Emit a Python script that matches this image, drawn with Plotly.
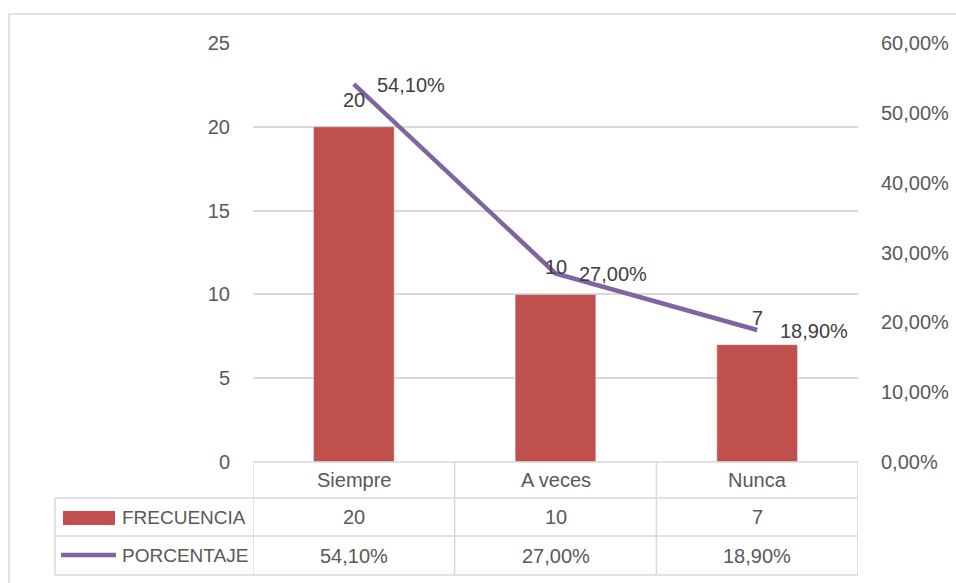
import plotly.graph_objects as go

categories = ["Siempre", "A veces", "Nunca"]
frecuencia = [20, 10, 7]
porcentaje = [0.541, 0.27, 0.189]
pct_labels = ["54,10%", "27,00%", "18,90%"]
left_ticks = [0, 5, 10, 15, 20, 25]
right_ticks = [0, 0.1, 0.2, 0.3, 0.4, 0.5, 0.6]

W, H = 956, 583
L, R, T, B = 253, 858, 43, 462
PW, PH = R - L, B - T


def px(x):
    return (x - L) / PW


def py(y):
    return (B - y) / PH


FONT = "Liberation Sans"
FS = 20
BAR = "#C0504D"
LINE = "#8064A2"
GRID = "#D9D9D9"
TXT = "#595959"
LBL = "#404040"

fig = go.Figure()
fig.add_trace(go.Bar(x=categories, y=frecuencia, name="FRECUENCIA",
                     marker=dict(color=BAR), width=0.4, yaxis="y"))
fig.add_trace(go.Scatter(x=categories, y=porcentaje, name="PORCENTAJE",
                         mode="lines", line=dict(color=LINE, width=4.5),
                         yaxis="y2"))

annotations = []
# bar data labels
for c, v in zip(categories, frecuencia):
    annotations.append(dict(x=c, y=v, xref="x", yref="y", text=str(v),
                            showarrow=False, yshift=27, yanchor="middle",
                            font=dict(family=FONT, size=FS, color=LBL)))
# line data labels
for c, v, t in zip(categories, porcentaje, pct_labels):
    annotations.append(dict(x=c, y=v, xref="x", yref="y2", text=t,
                            showarrow=False, xanchor="left", xshift=21,
                            yshift=-1, yanchor="middle",
                            font=dict(family=FONT, size=FS, color=LBL)))

# data table text
row_c = [(462 + 498) / 2, (498 + 536) / 2, (536 + 575) / 2]
for i, c in enumerate(categories):
    annotations.append(dict(x=c, y=py(row_c[0]), xref="x", yref="paper",
                            text=c, showarrow=False, yanchor="middle",
                            font=dict(family=FONT, size=FS, color=TXT)))
    annotations.append(dict(x=c, y=py(row_c[1]), xref="x", yref="paper",
                            text=str(frecuencia[i]), showarrow=False,
                            yanchor="middle",
                            font=dict(family=FONT, size=FS, color=TXT)))
    annotations.append(dict(x=c, y=py(row_c[2]), xref="x", yref="paper",
                            text=pct_labels[i], showarrow=False,
                            yanchor="middle",
                            font=dict(family=FONT, size=FS, color=TXT)))
for name, yc in (("FRECUENCIA", row_c[1]), ("PORCENTAJE", row_c[2])):
    annotations.append(dict(x=px(120), y=py(yc), xref="paper", yref="paper",
                            text=name, showarrow=False, xanchor="left",
                            yanchor="middle",
                            font=dict(family=FONT, size=19, color=TXT)))

shapes = []
# outer chart border
shapes.append(dict(type="rect", xref="paper", yref="paper",
                   x0=px(9), x1=px(1000), y0=py(14), y1=py(620),
                   line=dict(color=GRID, width=1.5), layer="below"))
# table horizontal lines
shapes.append(dict(type="line", xref="paper", yref="paper", x0=0, x1=1,
                   y0=py(462), y1=py(462), line=dict(color=GRID, width=1.5)))
for yy in (498, 536, 575):
    shapes.append(dict(type="line", xref="paper", yref="paper", x0=px(55),
                       x1=1, y0=py(yy), y1=py(yy),
                       line=dict(color=GRID, width=1.5)))
# table vertical lines at category band edges
for xe in (-0.5, 0.5, 1.5, 2.5):
    shapes.append(dict(type="line", xref="x", yref="paper", x0=xe, x1=xe,
                       y0=py(462), y1=py(575),
                       line=dict(color=GRID, width=1.5)))
shapes.append(dict(type="line", xref="paper", yref="paper", x0=px(55),
                   x1=px(55), y0=py(498), y1=py(575),
                   line=dict(color=GRID, width=1.5)))
# legend keys
shapes.append(dict(type="rect", xref="paper", yref="paper", x0=px(63),
                   x1=px(115), y0=py(525), y1=py(511),
                   fillcolor=BAR, line=dict(width=0)))
shapes.append(dict(type="line", xref="paper", yref="paper", x0=px(61),
                   x1=px(116), y0=py(555), y1=py(555),
                   line=dict(color=LINE, width=4.5)))

fig.update_layout(
    width=W, height=H, autosize=False,
    margin=dict(l=L, r=W - R, t=T, b=H - B, pad=0, autoexpand=False),
    paper_bgcolor="white", plot_bgcolor="white",
    showlegend=False, separators=",.",
    font=dict(family=FONT, size=FS, color=TXT),
    bargap=0.6,
    xaxis=dict(type="category", range=[-0.5, 2.5], showticklabels=False,
               showgrid=False, zeroline=False, showline=False, ticks="",
               automargin=False),
    yaxis=dict(range=[0, 25], tickvals=left_ticks, showgrid=True,
               gridcolor=GRID, gridwidth=1.5, zeroline=False,
               showline=False, ticks="", ticklabelstandoff=22,
               automargin=False,
               tickfont=dict(family=FONT, size=FS, color=TXT)),
    yaxis2=dict(range=[0, 0.6], tickvals=right_ticks, tickformat=".2%",
                overlaying="y", side="right", showgrid=False,
                zeroline=False, showline=False, ticks="",
                ticklabelstandoff=22, automargin=False,
                tickfont=dict(family=FONT, size=FS, color=TXT)),
    annotations=annotations, shapes=shapes,
)

fig.write_html("out.html", config={"displayModeBar": False},
               post_script="document.body.style.margin='0px';")
